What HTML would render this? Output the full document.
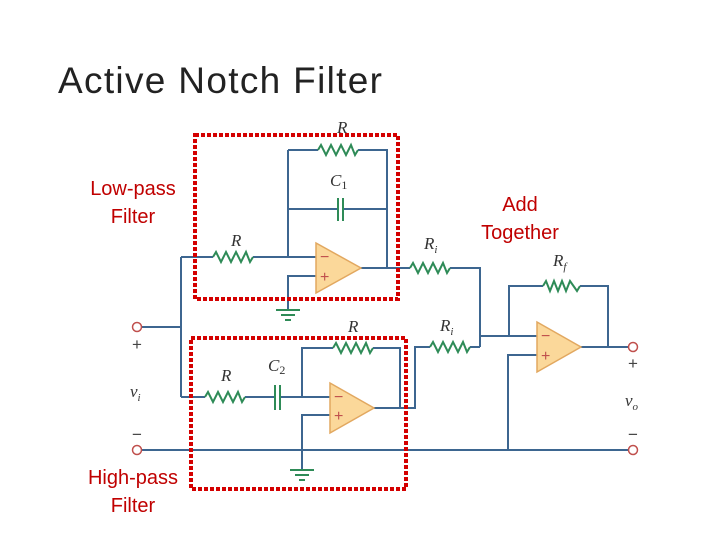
<!DOCTYPE html>
<html><head><meta charset="utf-8"><style>
body{margin:0;background:#fff;width:720px;height:540px;overflow:hidden}
svg{display:block}
.t{font-family:"Liberation Sans",sans-serif}
.l{font-family:"Liberation Serif",serif;font-style:italic;fill:#333;font-size:17px}
.red{fill:#c00000;font-size:20px;font-family:"Liberation Sans",sans-serif}
</style></head><body>
<svg width="720" height="540" viewBox="0 0 720 540">
<text x="58" y="93" font-size="37" fill="#222" font-family="Liberation Sans,sans-serif" textLength="324" lengthAdjust="spacing">Active Notch Filter</text>
<g fill="none" stroke="#3d6690" stroke-width="2">
<polyline points="288,150 318,150"/><polyline points="358,150 387,150 387,268"/>
<polyline points="288,150 288,257"/>
<polyline points="288,209 338,209"/><polyline points="343,209 387,209"/>
<polyline points="181,257 213,257"/><polyline points="253,257 316,257"/>
<polyline points="181,257 181,397"/>
<polyline points="361,268 410,268"/><polyline points="450,268 480,268 480,347"/>
<polyline points="316,276 288,276 288,310"/>
<polyline points="141,327 181,327"/>
<polyline points="141,450 629,450"/>
<polyline points="181,397 205,397"/><polyline points="245,397 275,397"/><polyline points="280,397 330,397"/>
<polyline points="302,397 302,348 333,348"/><polyline points="373,348 400,348 400,408"/>
<polyline points="374,408 415,408 415,347 430,347"/><polyline points="470,347 480,347"/>
<polyline points="330,415 302,415 302,470"/>
<polyline points="480,336 537,336"/>
<polyline points="509,336 509,286 543,286"/><polyline points="580,286 608,286 608,347"/>
<polyline points="581,347 629,347"/>
<polyline points="537,355 508,355 508,450"/>
</g>
<g fill="none" stroke="#2e8b57" stroke-width="2">
<polyline points="318,150 321,145 326,155 331,145 336,155 341,145 346,155 351,145 355,155 358,150"/>
<polyline points="213,257 216,252 221,262 226,252 231,262 236,252 241,262 246,252 250,262 253,257"/>
<polyline points="410,268 413,263 418,273 423,263 428,273 433,263 438,273 443,263 447,273 450,268"/>
<polyline points="205,397 208,392 213,402 218,392 223,402 228,392 233,402 238,392 242,402 245,397"/>
<polyline points="333,348 336,343 341,353 346,343 351,353 356,343 361,353 366,343 370,353 373,348"/>
<polyline points="430,347 433,342 438,352 443,342 448,352 453,342 458,352 463,342 467,352 470,347"/>
<polyline points="543,286 546,281 550,291 554,281 558,291 562,281 566,291 570,281 577,291 580,286"/>
<line x1="338" y1="198" x2="338" y2="221"/><line x1="343" y1="198" x2="343" y2="221"/>
<line x1="275" y1="385" x2="275" y2="410"/><line x1="280" y1="385" x2="280" y2="410"/>
<line x1="276" y1="310" x2="300" y2="310"/><line x1="281" y1="315" x2="295" y2="315"/><line x1="285" y1="320" x2="291" y2="320"/>
<line x1="290" y1="470" x2="314" y2="470"/><line x1="295" y1="475" x2="309" y2="475"/><line x1="299" y1="480" x2="305" y2="480"/>
</g>
<g fill="#fbd89a" stroke="#e2a860" stroke-width="1.5">
<polygon points="316,243 316,293 361,268"/>
<polygon points="330,383 330,433 374,408"/>
<polygon points="537,322 537,372 581,347"/>
</g>
<g fill="#c0504d" font-size="16" class="t">
<text x="320" y="262">−</text><text x="320" y="282">+</text>
<text x="334" y="402">−</text><text x="334" y="421">+</text>
<text x="541" y="341">−</text><text x="541" y="361">+</text>
</g>
<g fill="#fff" stroke="#c0504d" stroke-width="1.5">
<circle cx="137" cy="327" r="4.5"/><circle cx="137" cy="450" r="4.5"/>
<circle cx="633" cy="347" r="4.5"/><circle cx="633" cy="450" r="4.5"/>
</g>
<g class="t" fill="#444" font-size="17" text-anchor="middle">
<text x="137" y="350">+</text><text x="137" y="440">−</text>
<text x="633" y="369">+</text><text x="633" y="440">−</text>
</g>
<text class="l" x="130" y="397">v<tspan font-size="11" dy="4">i</tspan></text>
<text class="l" x="625" y="406">v<tspan font-size="11" dy="4">o</tspan></text>
<text class="l" x="337" y="133">R</text>
<text class="l" x="330" y="186">C<tspan font-size="12" font-style="normal" dy="3">1</tspan></text>
<text class="l" x="231" y="246">R</text>
<text class="l" x="424" y="249">R<tspan font-size="11" dy="4">i</tspan></text>
<text class="l" x="440" y="331">R<tspan font-size="11" dy="4">i</tspan></text>
<text class="l" x="553" y="266">R<tspan font-size="11" dy="4">f</tspan></text>
<text class="l" x="348" y="332">R</text>
<text class="l" x="268" y="371">C<tspan font-size="12" font-style="normal" dy="3">2</tspan></text>
<text class="l" x="221" y="381">R</text>
<g fill="none" stroke="#d40000" stroke-width="4" stroke-dasharray="4 2">
<rect x="195" y="135" width="203" height="164"/>
<rect x="191" y="338" width="215" height="151"/>
</g>
<g class="red" text-anchor="middle">
<text x="133" y="195">Low-pass</text><text x="133" y="223">Filter</text>
<text x="520" y="211">Add</text><text x="520" y="239">Together</text>
<text x="133" y="484">High-pass</text><text x="133" y="512">Filter</text>
</g>
</svg>
</body></html>
